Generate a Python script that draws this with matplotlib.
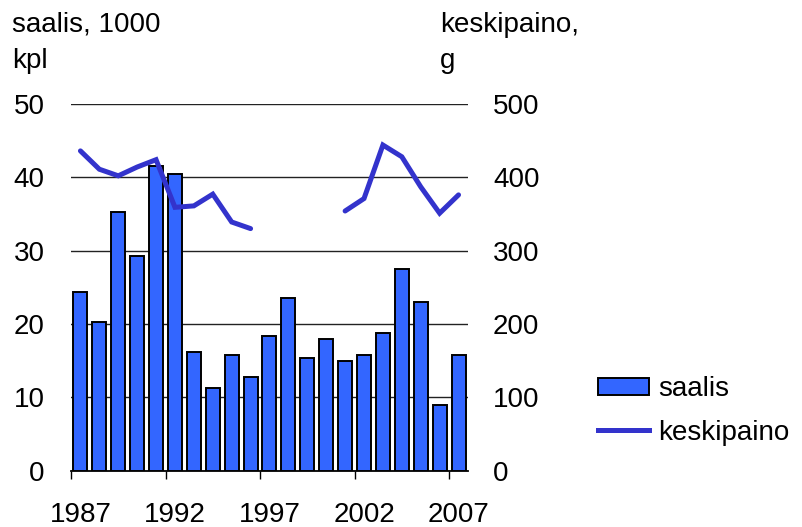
import numpy as np
import matplotlib.pyplot as plt
from matplotlib.patches import Patch
from matplotlib.lines import Line2D

plt.rcParams['font.family'] = ['Liberation Sans', 'DejaVu Sans']

years = list(range(1987, 2008))
saalis = [24.3, 20.2, 35.3, 29.2, 41.5, 40.4, 16.1, 11.3, 15.8, 12.8, 18.4,
          23.5, 15.4, 17.9, 14.9, 15.8, 18.7, 27.5, 23.0, 9.0, 15.8]
keskipaino = [436, 411, 402, 414, 424, 359, 361, 377, 339, 330, np.nan,
              np.nan, np.nan, np.nan, 354, 371, 444, 428, 387, 351, 376]
tick_years = [1987, 1992, 1997, 2002, 2007]

bar_color = '#3366FF'
line_color = '#3333CC'
fs = 20

fig = plt.figure(figsize=(8.03, 5.27), dpi=100)
ax = fig.add_axes([0.0884, 0.1072, 0.4944, 0.6955])
ax2 = ax.twinx()

x = np.arange(len(years))
ax.bar(x, saalis, width=0.74, color=bar_color, edgecolor='black', linewidth=1.4, zorder=3)
ax2.plot(x, keskipaino, color=line_color, linewidth=3.6, solid_capstyle='round',
         solid_joinstyle='miter', zorder=4)

ax.set_xlim(-0.5, len(years) - 0.5)
ax.set_ylim(0, 50)
ax2.set_ylim(0, 500)
ax.set_yticks(range(0, 51, 10))
ax2.set_yticks(range(0, 501, 100))
ax.yaxis.grid(True, color='#222222', linewidth=1.0, zorder=0)
ax.set_axisbelow(True)

# tick marks at category boundaries, labels centred on the categories
idx = [years.index(y) for y in tick_years]
ax.set_xticks([i - 0.5 for i in idx])
ax.set_xticklabels([])
ax.set_xticks(idx, minor=True)
ax.set_xticklabels([str(y) for y in tick_years], minor=True)

for a in (ax, ax2):
    for s in ('left', 'right', 'top', 'bottom'):
        a.spines[s].set_visible(False)
ax.spines['bottom'].set_visible(True)
ax.spines['bottom'].set_linewidth(1.3)

ax.tick_params(axis='x', which='major', length=6, width=1.0, direction='out')
ax.tick_params(axis='x', which='minor', length=0, pad=23, labelsize=fs)
ax.tick_params(axis='y', length=0, pad=19, labelsize=fs)
ax2.tick_params(axis='y', length=0, pad=18, labelsize=fs)

fig.text(0.015, 0.953, 'saalis, 1000', fontsize=fs, va='center', ha='left')
fig.text(0.015, 0.884, 'kpl', fontsize=fs, va='center', ha='left')
fig.text(0.548, 0.953, 'keskipaino,', fontsize=fs, va='center', ha='left')
fig.text(0.548, 0.884, 'g', fontsize=fs, va='center', ha='left')

handles = [Patch(facecolor=bar_color, edgecolor='black', linewidth=1.4),
           Line2D([0], [0], color=line_color, linewidth=3.6)]
fig.legend(handles, ['saalis', 'keskipaino'], loc='center left',
           bbox_to_anchor=(0.745, 0.220), frameon=False, fontsize=fs,
           handlelength=1.83, handleheight=0.6, handletextpad=0.32,
           labelspacing=0.62, borderpad=0, borderaxespad=0)

fig.savefig('out.png', dpi=100)
